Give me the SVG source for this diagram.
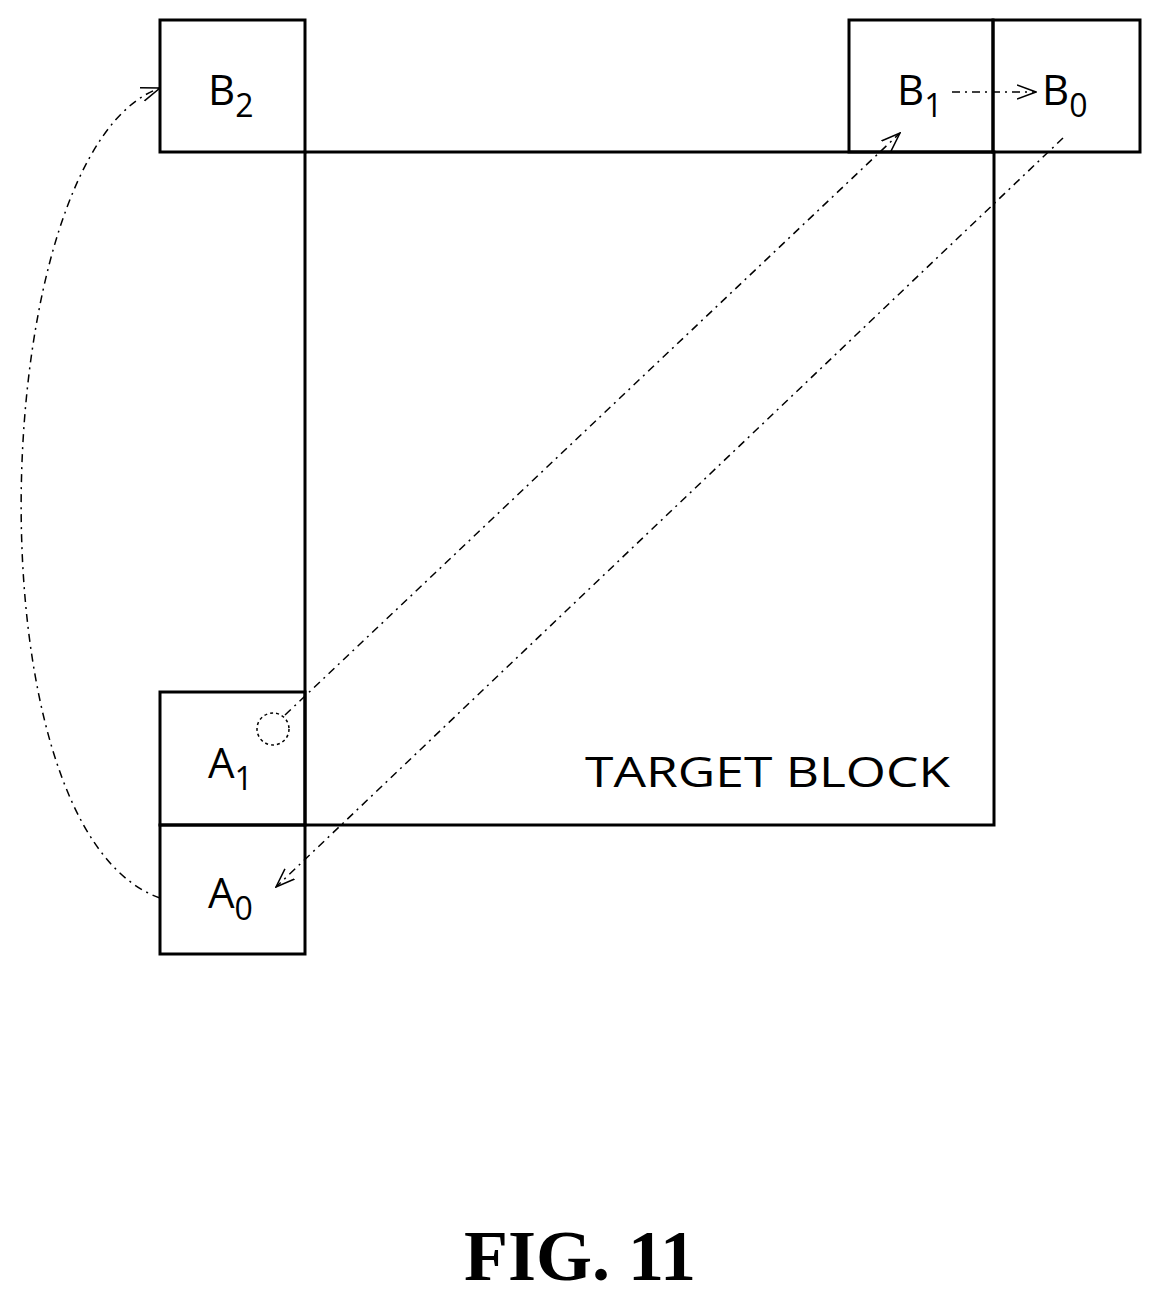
<svg xmlns="http://www.w3.org/2000/svg" width="1161" height="1300" viewBox="0 0 1161 1300">
<style>
.b{fill:none;stroke:#000;stroke-width:3}
.c{fill:none;stroke:#000;stroke-width:1.5;stroke-dasharray:8,5,2,5}
.t{font-family:"Open Sans","DejaVu Sans",sans-serif;font-size:42px;fill:#000}
.s{font-size:32px}
</style>
<defs><marker id="ah" viewBox="0 0 20 20" refX="19" refY="10" markerWidth="20" markerHeight="20" markerUnits="userSpaceOnUse" orient="auto"><path d="M0,3 L19,10 L0,17" fill="none" stroke="#000" stroke-width="1.5"/></marker></defs>
<g id="target"><rect class="b" x="305" y="152" width="689" height="673"/><text class="t" x="585" y="787" font-size="46" textLength="365" lengthAdjust="spacingAndGlyphs">TARGET BLOCK</text></g>
<g id="B2"><rect class="b" x="160" y="20" width="145" height="132" fill="#fff"/><text class="t" x="208" y="105">B<tspan class="s" dy="12">2</tspan></text></g>
<g id="B1"><rect class="b" x="849" y="20" width="144" height="132" fill="#fff"/><text class="t" x="897" y="105">B<tspan class="s" dy="12">1</tspan></text></g>
<g id="B0"><rect class="b" x="993" y="20" width="147" height="132" fill="#fff"/><text class="t" x="1042" y="105">B<tspan class="s" dy="12">0</tspan></text></g>
<g id="A1"><rect class="b" x="160" y="692" width="145" height="133" fill="#fff"/><text class="t" x="208" y="778">A<tspan class="s" dy="12">1</tspan></text><circle cx="273" cy="729" r="16" fill="none" stroke="#000" stroke-width="1.5" stroke-dasharray="3,3"/></g>
<g id="A0"><rect class="b" x="160" y="825" width="145" height="129" fill="#fff"/><text class="t" x="208" y="908">A<tspan class="s" dy="12">0</tspan></text></g>
<g id="connectors">
<path class="c" d="M285,715 L900,133" marker-end="url(#ah)"/>
<path class="c" d="M952,92 L1036,92" marker-end="url(#ah)"/>
<path class="c" d="M1063,138 L276,887" marker-end="url(#ah)"/>
<path class="c" d="M160,898 C-35,830 -15,150 160,88" marker-end="url(#ah)"/>
</g>
<text x="580" y="1280" text-anchor="middle" style="font-family:'Liberation Serif',serif;font-size:72px;font-weight:bold">FIG. 11</text>
</svg>
